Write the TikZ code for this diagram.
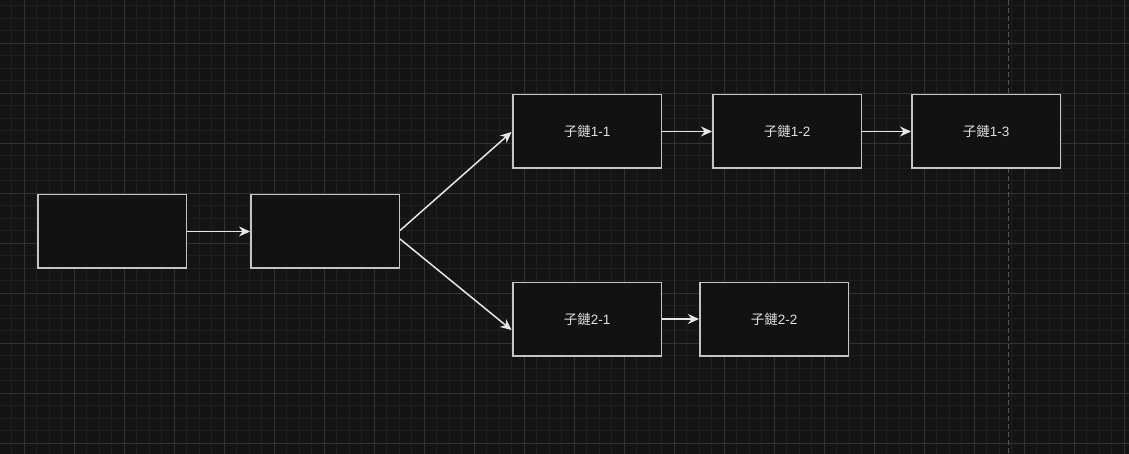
\documentclass[tikz,border=0pt]{standalone}
\usepackage{fontspec}
\setmainfont{Liberation Sans}
\newfontfamily\cjk{Noto Sans CJK TC}
\usetikzlibrary{arrows.meta}
\definecolor{bgc}{HTML}{141414}
\definecolor{minorc}{HTML}{1F1F1F}
\definecolor{majorc}{HTML}{333333}
\definecolor{boxfill}{HTML}{121212}
\definecolor{boxline}{HTML}{C4C4C4}
\definecolor{arrowc}{HTML}{E6E6E6}
\definecolor{textc}{HTML}{E0E0E0}
\definecolor{pagec}{HTML}{555555}
\tikzset{
  minorline/.style={draw=minorc, line width=1pt},
  majorline/.style={draw=majorc, line width=1pt},
  chainbox/.style={draw=boxline, fill=boxfill, line width=1.5pt, minimum width=148.5pt, minimum height=73.5pt, inner sep=0pt, text=textc, font=\fontsize{13.5}{15}\selectfont},
  conn/.style={draw=arrowc, line width=1.5pt, -{Stealth[length=11pt,width=10pt,inset=3.5pt]}},
}
\newcommand{\zi}{{\cjk 子鏈}}
\begin{document}
\begin{tikzpicture}[x=1pt,y=-1pt]
\useasboundingbox (0,0) rectangle (1129,454);
\fill[bgc] (0,0) rectangle (1129,454);
% grid
\foreach \i in {0,...,90} {\draw[minorline] ({11.8+12.5*\i},0) -- ({11.8+12.5*\i},454);}
\foreach \i in {0,...,36} {\draw[minorline] (0,{5.8+12.5*\i}) -- (1129,{5.8+12.5*\i});}
\foreach \i in {0,...,22} {\draw[majorline] ({24.3+50*\i},0) -- ({24.3+50*\i},454);}
\foreach \i in {0,...,8} {\draw[majorline] (0,{43.3+50*\i}) -- (1129,{43.3+50*\i});}
% page break line
\draw[pagec, line width=1pt, dash pattern=on 5pt off 3pt] (1008.3,0) -- (1008.3,454);
% boxes
\node[chainbox] (a) at (112,231.5) {};
\node[chainbox] (b) at (325,231.5) {};
\node[chainbox] (c11) at (587,131.5) {\zi 1-1};
\node[chainbox] (c12) at (787,131.5) {\zi 1-2};
\node[chainbox] (c13) at (986,131.5) {\zi 1-3};
\node[chainbox] (c21) at (587,319) {\zi 2-1};
\node[chainbox] (c22) at (774,319) {\zi 2-2};
% connector endpoints
\coordinate (bup) at (400,230.5);
\coordinate (bdn) at (400,239);
\coordinate (c11in) at (511.5,132);
\coordinate (c21in) at (511.5,330);
% connectors
\draw[conn] (a.east) -- (b.west);
\draw[conn] (bup) -- (c11in);
\draw[conn] (bdn) -- (c21in);
\draw[conn] (c11.east) -- (c12.west);
\draw[conn] (c12.east) -- (c13.west);
\draw[conn] (c21.east) -- (c22.west);
\end{tikzpicture}
\end{document}
